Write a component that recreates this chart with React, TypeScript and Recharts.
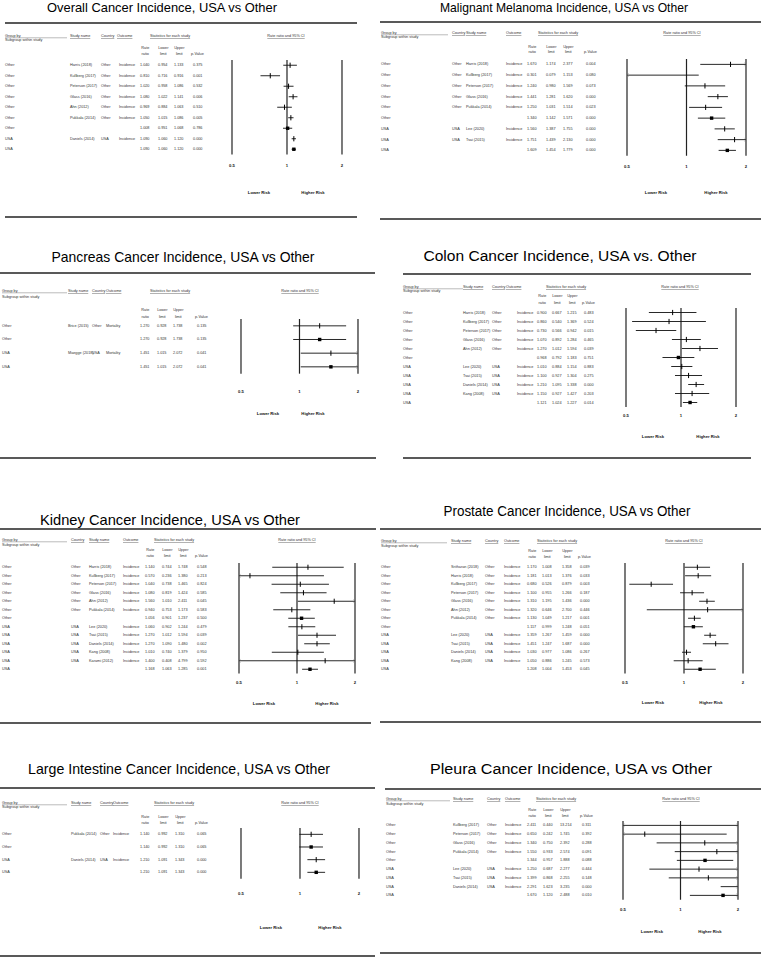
import React from 'react'
import { ScatterChart, Scatter, XAxis, YAxis, ReferenceLine } from 'recharts'

// group, study name, country, outcome, rate ratio, lower, upper, p-value
type Row = [string, string, string, string, number, number, number, string]

const overallRows: Row[] = [
  ['Other', 'Harris (2018)', 'Other', 'Incidence', 1.04, 0.954, 1.133, '0.375'],
  ['Other', 'Kullberg (2017)', 'Other', 'Incidence', 0.81, 0.716, 0.916, '0.001'],
  ['Other', 'Peterson (2017)', 'Other', 'Incidence', 1.02, 0.958, 1.086, '0.532'],
  ['Other', 'Glass (2016)', 'Other', 'Incidence', 1.08, 1.022, 1.141, '0.006'],
  ['Other', 'Ahn (2012)', 'Other', 'Incidence', 0.969, 0.884, 1.063, '0.510'],
  ['Other', 'Pukkala (2014)', 'Other', 'Incidence', 1.05, 1.015, 1.086, '0.005'],
  ['Other', '', '', '', 1.008, 0.951, 1.068, '0.786'],
  ['USA', 'Daniels (2014)', 'USA', 'Incidence', 1.09, 1.06, 1.12, '0.000'],
  ['USA', '', '', '', 1.09, 1.06, 1.12, '0.000'],
]

const melanomaRows: Row[] = [
  ['Other', 'Harris (2018)', 'Other', 'Incidence', 1.67, 1.174, 2.377, '0.004'],
  ['Other', 'Kullberg (2017)', 'Other', 'Incidence', 0.301, 0.079, 1.153, '0.080'],
  ['Other', 'Peterson (2017)', 'Other', 'Incidence', 1.24, 0.98, 1.569, '0.073'],
  ['Other', 'Glass (2016)', 'Other', 'Incidence', 1.441, 1.281, 1.62, '0.000'],
  ['Other', 'Pukkala (2014)', 'Other', 'Incidence', 1.25, 1.031, 1.514, '0.023'],
  ['Other', '', '', '', 1.34, 1.142, 1.571, '0.000'],
  ['USA', 'Lee (2020)', 'USA', 'Incidence', 1.56, 1.387, 1.755, '0.000'],
  ['USA', 'Tsai (2015)', 'USA', 'Incidence', 1.751, 1.439, 2.13, '0.000'],
  ['USA', '', '', '', 1.609, 1.454, 1.779, '0.000'],
]

const pancreasRows: Row[] = [
  ['Other', 'Brice (2015)', 'Other', 'Mortality', 1.27, 0.928, 1.738, '0.135'],
  ['Other', '', '', '', 1.27, 0.928, 1.738, '0.135'],
  ['USA', 'Maegge (2018)', 'USA', 'Mortality', 1.451, 1.015, 2.072, '0.041'],
  ['USA', '', '', '', 1.451, 1.015, 2.072, '0.041'],
]

const colonRows: Row[] = [
  ['Other', 'Harris (2018)', 'Other', 'Incidence', 0.9, 0.667, 1.215, '0.483'],
  ['Other', 'Kullberg (2017)', 'Other', 'Incidence', 0.86, 0.54, 1.369, '0.524'],
  ['Other', 'Peterson (2017)', 'Other', 'Incidence', 0.73, 0.566, 0.942, '0.015'],
  ['Other', 'Glass (2016)', 'Other', 'Incidence', 1.07, 0.892, 1.284, '0.465'],
  ['Other', 'Ahn (2012)', 'Other', 'Incidence', 1.27, 1.012, 1.594, '0.039'],
  ['Other', '', '', '', 0.968, 0.792, 1.183, '0.751'],
  ['USA', 'Lee (2020)', 'USA', 'Incidence', 1.01, 0.884, 1.154, '0.883'],
  ['USA', 'Tsai (2015)', 'USA', 'Incidence', 1.1, 0.927, 1.304, '0.275'],
  ['USA', 'Daniels (2014)', 'USA', 'Incidence', 1.21, 1.095, 1.338, '0.000'],
  ['USA', 'Kang (2008)', 'USA', 'Incidence', 1.15, 0.927, 1.427, '0.203'],
  ['USA', '', '', '', 1.121, 1.024, 1.227, '0.014'],
]

const kidneyRows: Row[] = [
  ['Other', 'Harris (2018)', 'Other', 'Incidence', 1.14, 0.744, 1.748, '0.548'],
  ['Other', 'Kullberg (2017)', 'Other', 'Incidence', 0.57, 0.236, 1.38, '0.213'],
  ['Other', 'Peterson (2017)', 'Other', 'Incidence', 1.04, 0.738, 1.465, '0.824'],
  ['Other', 'Glass (2016)', 'Other', 'Incidence', 1.08, 0.819, 1.424, '0.585'],
  ['Other', 'Ahn (2012)', 'Other', 'Incidence', 1.56, 1.01, 2.411, '0.045'],
  ['Other', 'Pukkala (2014)', 'Other', 'Incidence', 0.94, 0.753, 1.173, '0.583'],
  ['Other', '', '', '', 1.056, 0.901, 1.237, '0.500'],
  ['USA', 'Lee (2020)', 'USA', 'Incidence', 1.06, 0.902, 1.244, '0.479'],
  ['USA', 'Tsai (2015)', 'USA', 'Incidence', 1.27, 1.012, 1.594, '0.039'],
  ['USA', 'Daniels (2014)', 'USA', 'Incidence', 1.27, 1.09, 1.48, '0.002'],
  ['USA', 'Kang (2008)', 'USA', 'Incidence', 1.01, 0.74, 1.379, '0.950'],
  ['USA', 'Karami (2012)', 'USA', 'Incidence', 1.4, 0.408, 4.799, '0.592'],
  ['USA', '', '', '', 1.168, 1.063, 1.285, '0.001'],
]

const prostateRows: Row[] = [
  ['Other', 'Sritharan (2018)', 'Other', 'Incidence', 1.17, 1.008, 1.358, '0.039'],
  ['Other', 'Harris (2018)', 'Other', 'Incidence', 1.181, 1.013, 1.376, '0.033'],
  ['Other', 'Kullberg (2017)', 'Other', 'Incidence', 0.68, 0.526, 0.879, '0.003'],
  ['Other', 'Peterson (2017)', 'Other', 'Incidence', 1.1, 0.955, 1.266, '0.187'],
  ['Other', 'Glass (2016)', 'Other', 'Incidence', 1.31, 1.195, 1.436, '0.000'],
  ['Other', 'Ahn (2012)', 'Other', 'Incidence', 1.32, 0.646, 2.7, '0.446'],
  ['Other', 'Pukkala (2014)', 'Other', 'Incidence', 1.13, 1.049, 1.217, '0.001'],
  ['Other', '', '', '', 1.117, 0.999, 1.248, '0.051'],
  ['USA', 'Lee (2020)', 'USA', 'Incidence', 1.359, 1.267, 1.459, '0.000'],
  ['USA', 'Tsai (2015)', 'USA', 'Incidence', 1.451, 1.247, 1.687, '0.000'],
  ['USA', 'Daniels (2014)', 'USA', 'Incidence', 1.03, 0.977, 1.086, '0.267'],
  ['USA', 'Kang (2008)', 'USA', 'Incidence', 1.05, 0.886, 1.245, '0.573'],
  ['USA', '', '', '', 1.208, 1.004, 1.453, '0.045'],
]

const intestineRows: Row[] = [
  ['Other', 'Pukkala (2014)', 'Other', 'Incidence', 1.14, 0.992, 1.31, '0.065'],
  ['Other', '', '', '', 1.14, 0.992, 1.31, '0.065'],
  ['USA', 'Daniels (2014)', 'USA', 'Incidence', 1.21, 1.091, 1.343, '0.000'],
  ['USA', '', '', '', 1.21, 1.091, 1.343, '0.000'],
]

const pleuraRows: Row[] = [
  ['Other', 'Kullberg (2017)', 'Other', 'Incidence', 2.411, 0.44, 13.214, '0.311'],
  ['Other', 'Peterson (2017)', 'Other', 'Incidence', 0.65, 0.242, 1.745, '0.392'],
  ['Other', 'Glass (2016)', 'Other', 'Incidence', 1.34, 0.75, 2.392, '0.288'],
  ['Other', 'Pukkala (2014)', 'Other', 'Incidence', 1.55, 0.933, 2.574, '0.091'],
  ['Other', '', '', '', 1.344, 0.957, 1.888, '0.088'],
  ['USA', 'Lee (2020)', 'USA', 'Incidence', 1.25, 0.687, 2.277, '0.444'],
  ['USA', 'Tsai (2015)', 'USA', 'Incidence', 1.399, 0.868, 2.255, '0.148'],
  ['USA', 'Daniels (2014)', 'USA', 'Incidence', 2.291, 1.623, 3.235, '0.000'],
  ['USA', '', '', '', 1.67, 1.12, 2.488, '0.010'],
]

const xTicks = [0.5, 1, 2]
const tickLabels = ['0.5', '1', '2']

const FONT = '"Liberation Sans", Arial, sans-serif'
const TS = 3.8

interface Panel {
  rows: Row[]
  title: string
  left: number
  tx: number; ty: number; tsize: number; tlen: number
  rules: number[][]
  headY: number; subY: number; rrY1: number; rrY2: number
  gEnd: number
  outHead?: number
  stats: number; ci: number
  cols: { group: number; study: number; country: number; outcome: number; rr: number; lo: number; up: number; p: number }
  rowFirst: number; rowLast: number
  x05: number; x2: number
  tickY: number; riskY: number; lowerX: number; higherX: number
}

const panels: Panel[] = [
  {
    rows: overallRows, title: 'Overall Cancer Incidence, USA vs Other', left: 0,
    tx: 162, ty: 7, tsize: 13, tlen: 230,
    rules: [[23, 5, 357], [217, 5, 357]],
    headY: 36, subY: 40, rrY1: 48, rrY2: 54, gEnd: 67, outHead: 117, stats: 150, ci: 286,
    cols: { group: 5, study: 70, country: 101, outcome: 119, rr: 140, lo: 158, up: 174, p: 193 },
    rowFirst: 65.7, rowLast: 149.7, x05: 232, x2: 342, tickY: 166, riskY: 192, lowerX: 259, higherX: 313,
  },
  {
    rows: melanomaRows, title: 'Malignant Melanoma Incidence, USA vs Other', left: 380,
    tx: 564, ty: 7, tsize: 13, tlen: 248,
    rules: [[22, 380, 761], [219, 380, 761]],
    headY: 33, subY: 37, rrY1: 47, rrY2: 52, gEnd: 448, stats: 538, ci: 682,
    cols: { group: 381, study: 466, country: 452, outcome: 506, rr: 527, lo: 546, up: 563, p: 586 },
    rowFirst: 64, rowLast: 150, x05: 627, x2: 746, tickY: 166, riskY: 192, lowerX: 656, higherX: 716,
  },
  {
    rows: pancreasRows, title: 'Pancreas Cancer Incidence, USA vs Other', left: 0,
    tx: 183, ty: 256, tsize: 15, tlen: 263,
    rules: [[273, 0, 375]],
    headY: 291, subY: 297, rrY1: 310, rrY2: 317, gEnd: 67, stats: 150, ci: 300,
    cols: { group: 2, study: 68, country: 92, outcome: 106, rr: 140, lo: 157, up: 173, p: 197 },
    rowFirst: 326, rowLast: 367, x05: 241, x2: 358, tickY: 392, riskY: 413, lowerX: 268, higherX: 313,
  },
  {
    rows: colonRows, title: 'Colon Cancer Incidence, USA vs. Other', left: 380,
    tx: 560, ty: 255, tsize: 15.5, tlen: 273,
    rules: [[274, 403, 751]],
    headY: 287, subY: 291, rrY1: 296, rrY2: 303, gEnd: 463, outHead: 506, stats: 546, ci: 680,
    cols: { group: 403, study: 463, country: 492, outcome: 517, rr: 537, lo: 552, up: 567, p: 584 },
    rowFirst: 312, rowLast: 402, x05: 626, x2: 736, tickY: 415, riskY: 436, lowerX: 653, higherX: 708,
  },
  {
    rows: kidneyRows, title: 'Kidney Cancer Incidence, USA vs Other', left: 0,
    tx: 170, ty: 519, tsize: 15, tlen: 260,
    rules: [[458, 0, 376], [529, 0, 376]],
    headY: 540, subY: 545, rrY1: 550, rrY2: 556, gEnd: 67, stats: 154, ci: 297,
    cols: { group: 2, study: 89, country: 71, outcome: 123, rr: 145, lo: 162, up: 178, p: 197 },
    rowFirst: 567, rowLast: 669, x05: 239, x2: 355, tickY: 682, riskY: 703, lowerX: 264, higherX: 327,
  },
  {
    rows: prostateRows, title: 'Prostate Cancer Incidence, USA vs Other', left: 380,
    tx: 567, ty: 511, tsize: 14, tlen: 247,
    rules: [[458, 403, 751], [529, 380, 761]],
    headY: 541, subY: 546, rrY1: 551, rrY2: 557, gEnd: 447, stats: 537, ci: 684,
    cols: { group: 381, study: 451, country: 485, outcome: 504, rr: 527, lo: 542, up: 562, p: 580 },
    rowFirst: 567, rowLast: 669, x05: 625, x2: 743, tickY: 682, riskY: 702, lowerX: 653, higherX: 711,
  },
  {
    rows: intestineRows, title: 'Large Intestine Cancer Incidence, USA vs Other', left: 0,
    tx: 179, ty: 768, tsize: 15, tlen: 302,
    rules: [[723, 0, 371], [788, 0, 375], [956, 0, 375]],
    headY: 803, subY: 807, rrY1: 817, rrY2: 823, gEnd: 67, stats: 154, ci: 300,
    cols: { group: 2, study: 71, country: 100, outcome: 113, rr: 140, lo: 158, up: 175, p: 197 },
    rowFirst: 834, rowLast: 872, x05: 241, x2: 359, tickY: 893, riskY: 927, lowerX: 271, higherX: 330,
  },
  {
    rows: pleuraRows, title: 'Pleura Cancer Incidence, USA vs Other', left: 380,
    tx: 571, ty: 768, tsize: 15.5, tlen: 282,
    rules: [[722, 380, 761], [789, 385, 761], [953, 380, 761]],
    headY: 799, subY: 804, rrY1: 810, rrY2: 816, gEnd: 450, stats: 536, ci: 681,
    cols: { group: 386, study: 453, country: 487, outcome: 505, rr: 527, lo: 543, up: 560, p: 582 },
    rowFirst: 825, rowLast: 895, x05: 623, x2: 738, tickY: 909, riskY: 931, lowerX: 652, higherX: 710,
  },
]

const txt = (x: number, y: number, s: string, extra: any = {}) => (
  <text x={x} y={y} fontSize={TS} fill="#333" fontFamily={FONT} dominantBaseline="central" {...extra}>{s}</text>
)

// titles, rules, column headers, risk labels
const Decor = ({ P }: { P: Panel }) => {
  const c = P.cols
  const ul = { textDecoration: 'underline' }
  const mid = (x: number) => x + 5.3
  return (
    <g>
      <text x={P.tx} y={P.ty} fontSize={P.tsize} fontFamily={FONT} textAnchor="middle" dominantBaseline="central"
        textLength={P.tlen} lengthAdjust="spacingAndGlyphs" fill="#000">{P.title}</text>
      {P.rules.map(([y, x1, x2], i) => (
        <line key={i} x1={x1} x2={x2} y1={y} y2={y} stroke="#222" strokeWidth={1.3} />
      ))}
      {txt(c.group, P.headY, 'Group by')}
      <line x1={c.group} x2={P.gEnd} y1={P.headY + 1.8} y2={P.headY + 1.8} stroke="#555" strokeWidth={0.4} />
      {txt(c.group, P.subY, 'Subgroup within study')}
      {txt(c.study, P.headY, 'Study name', { style: ul })}
      {txt(c.country, P.headY, 'Country', { style: ul })}
      {txt(P.outHead ?? c.outcome, P.headY, 'Outcome', { style: ul })}
      {txt(P.stats, P.headY, 'Statistics for each study', { style: ul })}
      {txt(P.ci, P.headY, 'Rate ratio and 95% CI', { style: ul, textAnchor: 'middle' })}
      {txt(mid(c.rr), P.rrY1, 'Rate', { textAnchor: 'middle' })}
      {txt(mid(c.rr), P.rrY2, 'ratio', { textAnchor: 'middle' })}
      {txt(mid(c.lo), P.rrY1, 'Lower', { textAnchor: 'middle' })}
      {txt(mid(c.lo), P.rrY2, 'limit', { textAnchor: 'middle' })}
      {txt(mid(c.up), P.rrY1, 'Upper', { textAnchor: 'middle' })}
      {txt(mid(c.up), P.rrY2, 'limit', { textAnchor: 'middle' })}
      {txt(c.p - 2, P.rrY2, 'p-Value')}
      {txt(P.lowerX, P.riskY, 'Lower Risk', { textAnchor: 'middle', fontWeight: 'bold', fill: '#111', fontSize: 4.2 })}
      {txt(P.higherX, P.riskY, 'Higher Risk', { textAnchor: 'middle', fontWeight: 'bold', fill: '#111', fontSize: 4.2 })}
    </g>
  )
}

const Forest = ({ P }: { P: Panel }) => {
  const n = P.rows.length
  const d = (P.rowLast - P.rowFirst) / (n - 1)
  const plotTop = P.rowFirst - d / 2
  const plotBottom = P.rowLast + d / 2
  const mt = 4
  const top = plotTop - mt
  const axisH = P.tickY - plotBottom + 6
  const width = P.x2 - P.left + 12
  const height = mt + (plotBottom - plotTop) + axisH
  const data = P.rows.map((r, i) => ({ row: i + 1, rr: r[4], lo: r[5], up: r[6], sum: r[1] === '' }))
  const pts = data.filter((p) => p.rr >= 0.5 && p.rr <= 2)
  const c = P.cols

  const rowTick = (props: any) => {
    const r = P.rows[props.payload.value - 1]
    if (!r) return <g />
    const cells: [number, string][] = [
      [c.group, r[0]], [c.study, r[1]], [c.country, r[2]], [c.outcome, r[3]],
      [c.rr, r[4].toFixed(3)], [c.lo, r[5].toFixed(3)], [c.up, r[6].toFixed(3)], [c.p, r[7]],
    ]
    return (
      <g>
        {cells.map(([x, s], i) => (s ? <g key={i}>{txt(x - P.left, props.y, s)}</g> : null))}
      </g>
    )
  }

  const xTick = (props: any) => (
    <text x={props.x} y={P.tickY - top} fontSize={4.2} fontWeight="bold" fill="#111" fontFamily={FONT}
      textAnchor="middle" dominantBaseline="central">
      {tickLabels[xTicks.indexOf(props.payload.value)]}
    </text>
  )

  const ciShape = (clipL: boolean, clipR: boolean) => (p: any) => (
    <g>
      <line x1={p.x1} y1={p.y1} x2={p.x2} y2={p.y2} stroke="#111" strokeWidth={0.9} />
      {clipL && <path d={`M${p.x1 + 1.5},${p.y1 - 1.8}L${p.x1},${p.y1}L${p.x1 + 1.5},${p.y1 + 1.8}`} fill="none" stroke="#777" strokeWidth={0.5} />}
      {clipR && <path d={`M${p.x2 - 1.5},${p.y2 - 1.8}L${p.x2},${p.y2}L${p.x2 - 1.5},${p.y2 + 1.8}`} fill="none" stroke="#777" strokeWidth={0.5} />}
    </g>
  )

  const marker = (props: any) => {
    const { cx, cy, payload } = props
    if (payload.sum) return <rect x={cx - 1.7} y={cy - 1.7} width={3.4} height={3.4} fill="#000" />
    const h = Math.min(2.6, d * 0.3)
    return <line x1={cx} x2={cx} y1={cy - h} y2={cy + h} stroke="#000" strokeWidth={1} />
  }

  return (
    <div style={{ position: 'absolute', left: P.left, top }}>
      <ScatterChart width={width} height={height} margin={{ top: mt, right: 12, bottom: 0, left: 0 }}>
        <XAxis type="number" dataKey="rr" scale="log" domain={[0.5, 2]} ticks={xTicks} allowDataOverflow
          interval={0} height={axisH} axisLine={false} tickLine={false} tickSize={0} tickMargin={0} tick={xTick} />
        <YAxis type="number" dataKey="row" domain={[0.5, n + 0.5]} reversed ticks={data.map((p) => p.row)}
          interval={0} width={P.x05 - P.left} axisLine={false} tickLine={false} tick={rowTick} />
        {xTicks.map((v) => (
          <ReferenceLine key={v} x={v} stroke="#222" strokeWidth={1.2} ifOverflow="visible" />
        ))}
        {data.map((p) => (
          <ReferenceLine key={'ci' + p.row} ifOverflow="visible"
            segment={[{ x: Math.max(p.lo, 0.5), y: p.row }, { x: Math.min(p.up, 2), y: p.row }]}
            shape={ciShape(p.lo < 0.5, p.up > 2)} />
        ))}
        <Scatter data={pts} shape={marker} isAnimationActive={false} />
      </ScatterChart>
    </div>
  )
}

export default function App() {
  return (
    <div style={{ position: 'relative', width: 761, height: 957, background: '#fff', overflow: 'hidden' }}>
      <style>{'body{margin:0}'}</style>
      <svg width={761} height={957} style={{ position: 'absolute', left: 0, top: 0 }}>
        {panels.map((P, i) => <Decor key={i} P={P} />)}
      </svg>
      {panels.map((P, i) => <Forest key={i} P={P} />)}
    </div>
  )
}
